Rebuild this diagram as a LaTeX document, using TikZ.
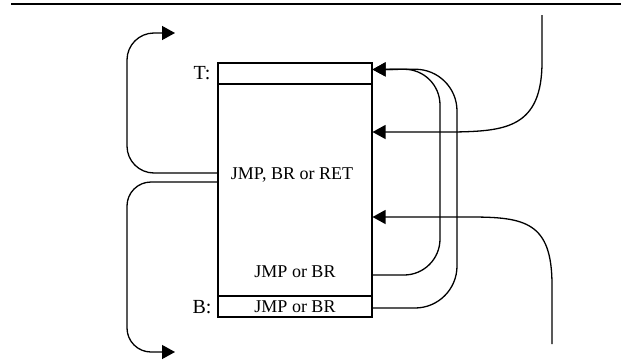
\documentclass[tikz,border=0pt]{standalone}
\usepackage{fontspec}
\setmainfont{Liberation Serif}
\usetikzlibrary{arrows.meta}

\begin{document}
\begin{tikzpicture}[x=1pt,y=-1pt,
    cell/.style={draw, line width=1.1pt, minimum width=154pt, inner sep=0pt, font=\fontsize{18}{20}\selectfont},
    lbl/.style={font=\fontsize{20}{22}\selectfont},
    txt/.style={font=\fontsize{18}{20}\selectfont},
    flow/.style={line width=1.3pt, -{Triangle[length=13pt,width=14pt]}}]
      \useasboundingbox (0,0) rectangle (621,364);
      \draw[line width=1.6pt] (11,4) -- (621,4);
      % the block
      \node[cell, minimum height=212pt] (body) at (295,190) {};
      \node[cell, minimum height=21pt] (top) at (295,73.5) {};
      \node[cell, minimum height=21pt] (bot) at (295,306.5) {JMP or BR};
      \node[lbl] (tl) at (202,73) {T:}; \node[lbl] (bl) at (202,307) {B:};
      \node[txt] (multi) at (292,175) {JMP, BR or RET};
      \node[txt] (jb) at (295,272) {JMP or BR};
      % free ends
      \coordinate (up) at (175,33); \coordinate (down) at (175,352);
      \coordinate (src1) at (542,15); \coordinate (src2) at (552,344);
      % leaving on the left
      \draw[flow, rounded corners=27pt] ([yshift=17pt]body.west) -| (127,33) -- (up);
      \draw[flow, rounded corners=24pt] ([yshift=8pt]body.west) -| (127,352) -- (down);
      % back to T
      \draw[flow, rounded corners=36pt] ([yshift=-85pt]body.east) -| (440,69) -- ([yshift=4pt]top.east);
      \draw[flow, rounded corners=42pt] ([yshift=-1.5pt]bot.east) -| (457,69) -- ([yshift=4pt]top.east);
      % coming in
      \draw[flow] (src1) -- (542,62) .. controls (542,128) and (505,131) .. (455,132) -- ([yshift=58pt]body.east);
      \draw[flow] (src2) -- (552,285) .. controls (552,222) and (525,217) .. (470,217) -- ([yshift=-27pt]body.east);
    \end{tikzpicture}
\end{document}
